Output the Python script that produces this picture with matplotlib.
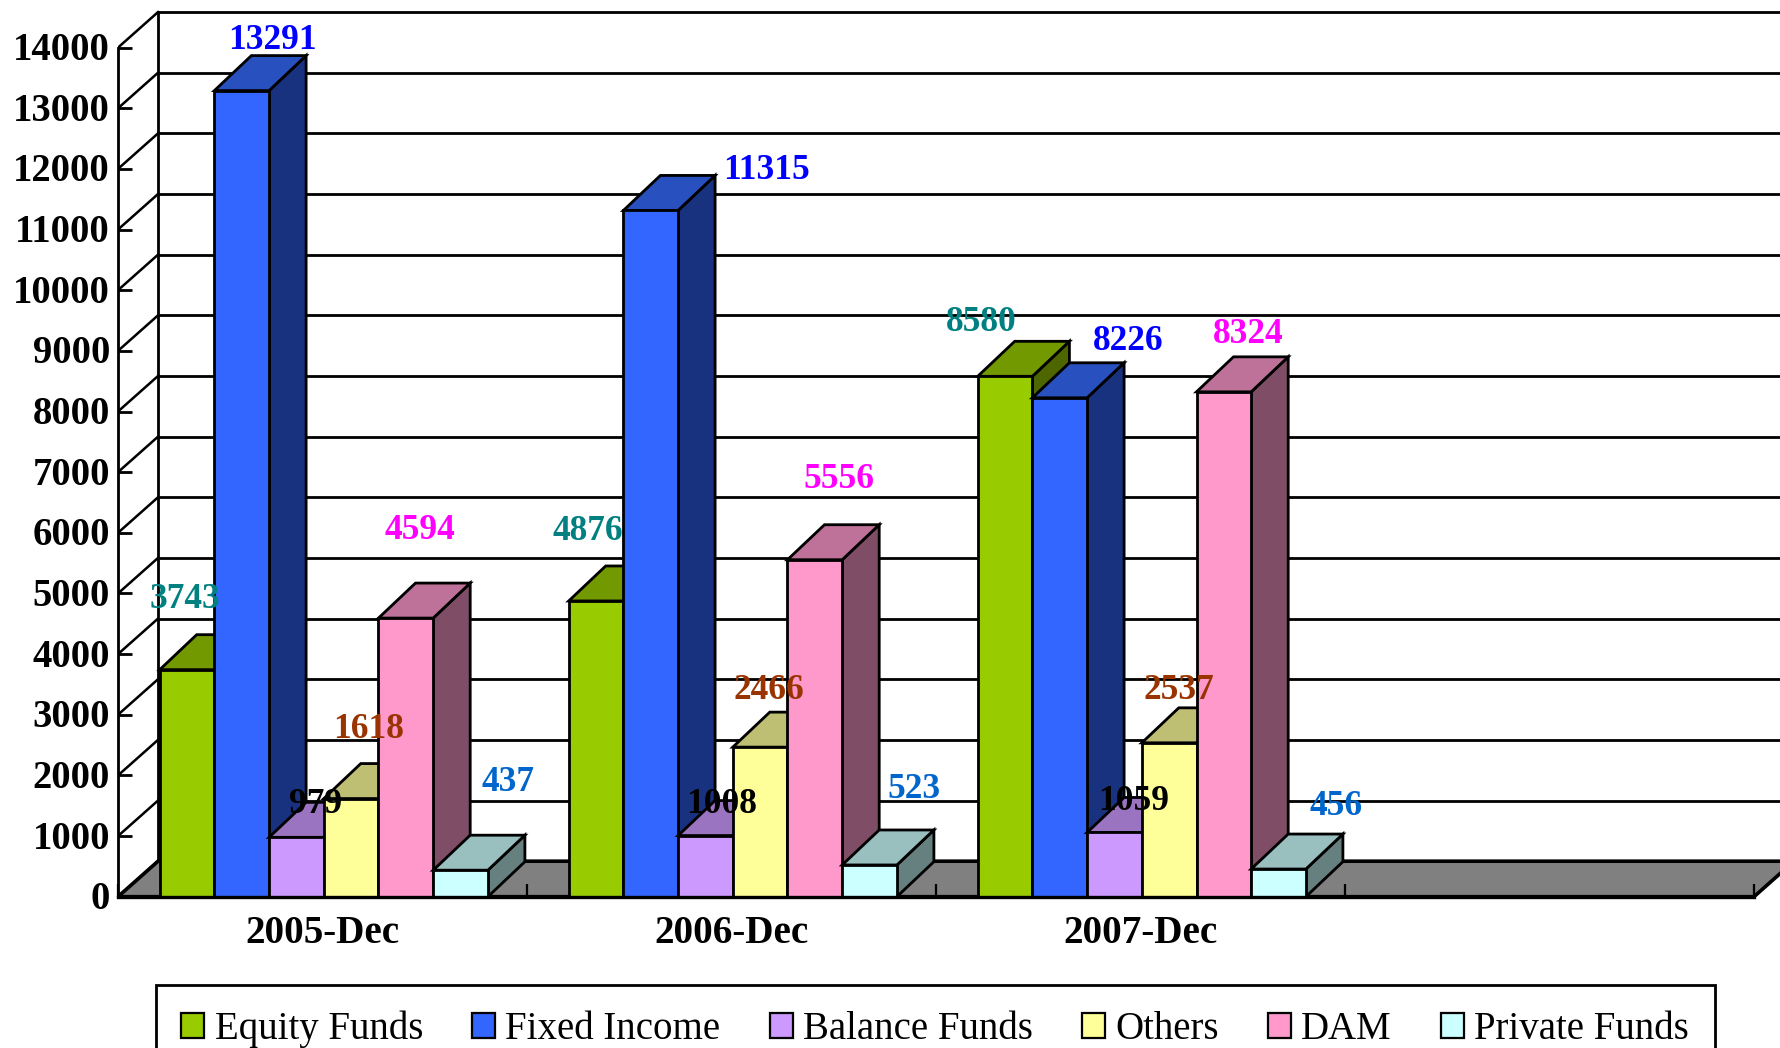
import numpy as np
import matplotlib
matplotlib.use('Agg')
import matplotlib.pyplot as plt
from matplotlib.patches import Polygon, Patch
from matplotlib.transforms import ScaledTranslation

# - DATA - #
categories = ['2005-Dec', '2006-Dec', '2007-Dec']
series_names = ['Equity Funds', 'Fixed Income', 'Balance Funds', 'Others', 'DAM', 'Private Funds']
equity = [3743, 4876, 8580]
fixed_income = [13291, 11315, 8226]
balance = [979, 1008, 1059]
others = [1618, 2466, 2537]
dam = [4594, 5556, 8324]
private = [437, 523, 456]
y_ticks = np.arange(0, 15000, 1000)

# - STYLE - #
face = ['#99CC00', '#3366FF', '#CC99FF', '#FFFF99', '#FF99CC', '#CCFFFF']
top = ['#739900', '#2850BE', '#9B74C1', '#BFBF73', '#BF7299', '#99BFBF']
side = ['#4D6600', '#19327F', '#664D80', '#80804D', '#804D66', '#668080']
label_colors = ['#008080', '#0000FF', '#000000', '#993300', '#FF00FF', '#0066CC']
# hand placed data labels in the original, pixels from top of each bar
label_dx = [[-2, -8, -24], [31, 116, 68], [19, 16, 19], [17, 9, 10], [14, 24, 24], [47, 44, 58]]
label_dy = [[70, 69, 54], [50, 40, 56], [33, 31, 31], [69, 57, 52], [88, 80, 57], [88, 75, 63]]

W, H = 1780, 1048
PX = 72 / 100  # points per pixel
LW = 2.8 * PX
x0, y0 = 118, 896.7
px_cat = 409.0   # pixels per category
px_val = 60.65 / 1000  # pixels per unit

plt.rcParams['font.family'] = ['Liberation Serif']
fig = plt.figure(figsize=(W / 100, H / 100), dpi=100, facecolor='white')
ax = fig.add_axes([x0 / W, (H - y0) / H, (W - x0) / W, y0 / H])
ax.set_xlim(0, (W - x0) / px_cat)
ax.set_ylim(0, y0 / px_val)

# depth of wall and bars, in data units
wall_dx, wall_dy = 40 / px_cat, 35.5 / px_val
bar_dx, bar_dy = 37 / px_cat, 35 / px_val
bar_w = 54.7 / px_cat
gap = (1 - 6 * bar_w) / 2 + 1.3 / px_cat

# - WALL AND FLOOR - #
n_slots = 4
ax.add_patch(Polygon([(0, 0), (n_slots, 0), (n_slots + wall_dx, wall_dy), (wall_dx, wall_dy)],
                     closed=True, fc='#808080', ec='black', lw=LW * 1.3, zorder=1))
for v in y_ticks:
    if v > 0:
        ax.plot([wall_dx, ax.get_xlim()[1]], [v + wall_dy, v + wall_dy], color='black', lw=LW, zorder=1)
    ax.plot([0, wall_dx], [v, v + wall_dy], color='black', lw=LW * 0.9, zorder=1)
ax.plot([wall_dx, wall_dx], [wall_dy, y_ticks[-1] + wall_dy], color='black', lw=LW, zorder=1)

# - BARS - #
all_series = [equity, fixed_income, balance, others, dam, private]
for g in range(len(categories)):
    for s, vals in enumerate(all_series):
        v = vals[g]
        xl = g + gap + s * bar_w
        xr = xl + bar_w
        ax.add_patch(Polygon([(xr, 0), (xr + bar_dx, bar_dy), (xr + bar_dx, v + bar_dy), (xr, v)],
                             closed=True, fc=side[s], ec='black', lw=LW, zorder=2))
        ax.add_patch(Polygon([(xl, v), (xr, v), (xr + bar_dx, v + bar_dy), (xl + bar_dx, v + bar_dy)],
                             closed=True, fc=top[s], ec='black', lw=LW, zorder=2))
        ax.add_patch(Polygon([(xl, 0), (xr, 0), (xr, v), (xl, v)],
                             closed=True, fc=face[s], ec='black', lw=LW, zorder=2))

# - DATA LABELS - #
for g in range(len(categories)):
    for s, vals in enumerate(all_series):
        xc = g + gap + (s + 0.5) * bar_w
        ax.annotate(str(vals[g]), xy=(xc, vals[g]), xytext=(label_dx[s][g], label_dy[s][g]),
                    textcoords='offset pixels', ha='center', va='center', color=label_colors[s],
                    fontsize=25.5, fontweight='bold', zorder=5)

# - AXES - #
for name in ['top', 'right']:
    ax.spines[name].set_visible(False)
ax.spines['left'].set_bounds(0, y_ticks[-1])
ax.spines['bottom'].set_bounds(0, n_slots)
ax.spines['left'].set_linewidth(LW)
ax.spines['bottom'].set_linewidth(LW * 1.2)
ax.set_axisbelow(False)
ax.set_yticks(y_ticks)
ax.set_yticklabels([str(v) for v in y_ticks], fontsize=27.8, fontweight='bold')
ax.tick_params(axis='y', direction='in', length=14 * PX, width=LW, pad=8 * PX)
nudge = ScaledTranslation(0, 1.5 / 100, fig.dpi_scale_trans)
for lab in ax.get_yticklabels():
    lab.set_transform(lab.get_transform() + nudge)
ax.set_xticks(np.arange(n_slots + 1))
ax.set_xticklabels([])
ax.tick_params(axis='x', which='major', direction='in', length=13 * PX, width=LW * 0.8)
ax.set_xticks(np.arange(len(categories)) + 0.5, minor=True)
ax.set_xticklabels(categories, minor=True, fontsize=28.2, fontweight='bold')
ax.tick_params(axis='x', which='minor', length=0, pad=18 * PX)

# - LEGEND - #
handles = [Patch(fc=face[i], ec='black', lw=LW * 0.8, label=series_names[i]) for i in range(6)]
leg = ax.legend(handles=handles, ncols=6, loc='upper left', bbox_to_anchor=(155.5 / W, 1 - 985 / H),
                bbox_transform=fig.transFigure, borderaxespad=0, fontsize=28, fancybox=False,
                framealpha=1, edgecolor='black', handlelength=0.59, handleheight=0.6,
                handletextpad=0.27, columnspacing=1.26, borderpad=0.66)
leg.get_frame().set_linewidth(LW)

plt.savefig('out.png', dpi=100)
